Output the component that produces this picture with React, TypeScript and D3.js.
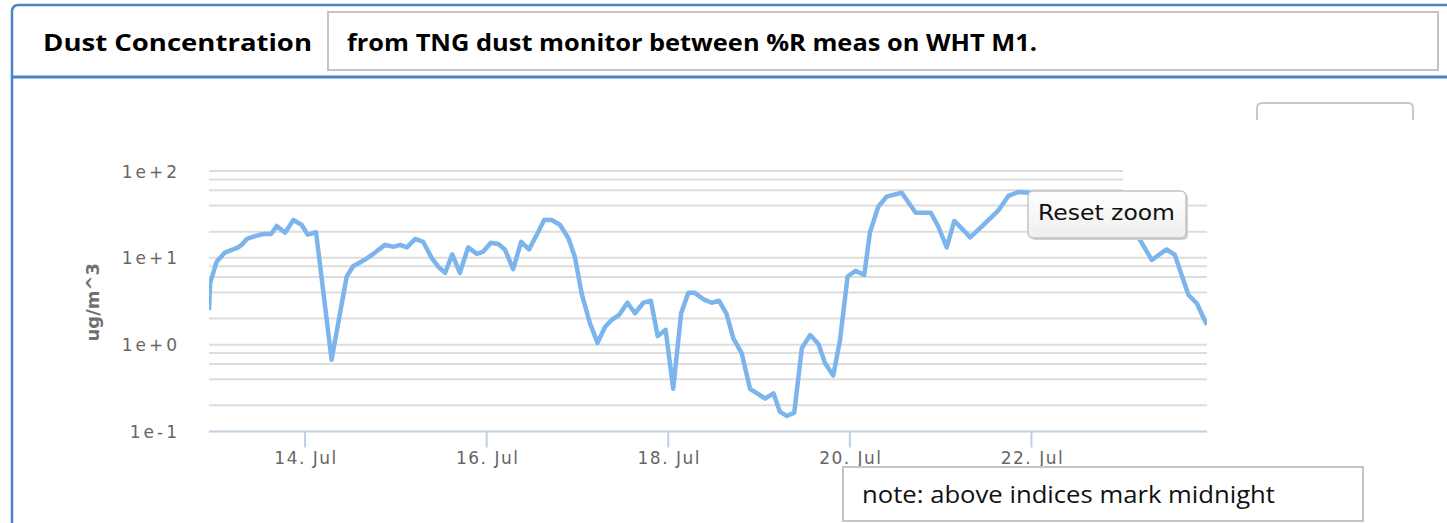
import React, { useEffect, useRef } from "react";
import * as d3 from "d3";

// hours after 13 Jul 00:00 (local time) and dust readings in ug/m^3
const hours = [
  -1.4, -1.1, 0.6, 2.8, 6.3, 7.2, 8.6, 10.8, 13.0, 15.0,
  16.5, 18.7, 20.9, 23.1, 24.7, 26.9, 31.0, 35.0, 36.7, 39.8,
  42.5, 45.1, 47.3, 49.1, 50.9, 53.1, 55.2, 57.5, 59.2, 61.0,
  62.9, 64.9, 67.1, 69.4, 71.1, 73.1, 75.1, 76.8, 79.0, 81.1,
  83.2, 85.2, 87.2, 89.2, 91.4, 93.6, 95.3, 97.1, 99.3, 101.3,
  103.3, 105.0, 107.0, 109.2, 111.2, 113.4, 115.4, 117.2, 119.3, 121.3,
  123.4, 125.3, 126.9, 129.3, 131.5, 133.4, 135.4, 137.2, 139.4, 141.6,
  145.6, 147.8, 149.5, 151.3, 153.3, 155.3, 157.5, 159.7, 161.4, 163.6,
  165.4, 167.4, 169.5, 171.8, 173.3, 175.5, 177.7, 181.7, 185.4, 189.4,
  191.4, 193.6, 195.6, 198.4, 199.8, 202.8, 207.2, 209.9, 212.5, 215.2,
  219.6, 224.9, 231.5, 238.1, 242.6,
  244.7, 247.8, 251.7, 253.9, 257.5, 259.7, 262.1, 262.4,
];
const dust = [
  2.5, 5.1, 9.0, 11.5, 13.2, 14.1, 16.5, 17.8, 18.8, 18.8,
  23.3, 19.5, 27.3, 23.9, 18.5, 19.7, 0.67, 6.1, 8.0, 9.5,
  11.5, 14.1, 13.4, 14.1, 13.2, 16.5, 15.3, 9.9, 7.9, 6.7,
  11.0, 6.7, 13.2, 11.1, 11.8, 14.9, 14.4, 12.5, 7.4, 15.3,
  12.5, 18.3, 27.3, 27.3, 23.9, 16.8, 10.3, 3.9, 1.76, 1.05,
  1.61, 1.92, 2.2, 3.04, 2.3, 3.04, 3.21, 1.26, 1.48, 0.31,
  2.3, 3.97, 3.97, 3.33, 3.04, 3.21, 2.26, 1.18, 0.8, 0.31,
  0.24, 0.275, 0.169, 0.151, 0.165, 0.91, 1.29, 1.02, 0.62, 0.44,
  1.13, 6.1, 7.1, 6.35, 19.5, 38.8, 50.6, 56.2, 33.1, 33.1,
  22.8, 13.2, 26.6, 20.0, 17.2, 22.8, 34.9, 51.6, 57.3, 56.2,
  51.6, 40.6, 33.7, 25.9, 19.8,
  16.1, 9.45, 12.5, 10.8, 3.73, 3.0, 1.79, 1.7,
];

const majorTicks = [0.1, 1, 10, 100];
const majorLabels = ["1e-1", "1e+0", "1e+1", "1e+2"];
const minorFactors = [2, 4, 6, 8];
const tickDays = [14, 16, 18, 20, 22];

const titleText = "Dust Concentration";
const subtitleText = "from TNG dust monitor between %R meas on WHT M1.";
const noteText = "note: above indices mark midnight";
const yTitle = "ug/m^3";
const resetText = "Reset zoom";

const W = 1447;
const H = 523;
const plotLeft = 209;
const plotRight = 1207;
const plotTop = 171;
const plotBottom = 431.5;

const blue = "#4a84c4";
const labelFont = "'DejaVu Sans', Verdana, sans-serif";
const boxFont = "'Open Sans', 'Noto Sans', sans-serif";

export default function App() {
  const svgRef = useRef<SVGSVGElement>(null);

  useEffect(() => {
    const svg = d3.select(svgRef.current);
    const g = svg.select(".chart");
    g.selectAll("*").remove();

    const base = new Date(2015, 6, 13).getTime();
    const data = hours.map((h, i) => ({ t: new Date(base + h * 3600e3), v: dust[i] }));

    const x = d3
      .scaleTime()
      .domain(d3.extent(data, (d) => d.t) as [Date, Date])
      .range([plotLeft, plotRight]);
    const y = d3.scaleLog().domain([0.1, 100]).range([plotBottom, plotTop]);

    // grid lines (major + minor on the log axis)
    const gridVals: number[] = [];
    majorTicks.forEach((m, i) => {
      if (i > 0) gridVals.push(m);
      if (i < majorTicks.length - 1) minorFactors.forEach((f) => gridVals.push(m * f));
    });
    g.append("g")
      .selectAll("line")
      .data(gridVals)
      .join("line")
      .attr("x1", plotLeft)
      .attr("x2", plotRight)
      .attr("y1", (d) => y(d))
      .attr("y2", (d) => y(d))
      .attr("stroke", "#dddddd")
      .attr("stroke-width", 2);

    // odd white patch in the top right of the plot area
    g.append("rect")
      .attr("x", 1123)
      .attr("y", 164)
      .attr("width", 90)
      .attr("height", 34)
      .attr("fill", "#fff");

    // x axis
    const xTicks = tickDays.map((d) => new Date(2015, 6, d));
    g.append("line")
      .attr("x1", plotLeft)
      .attr("x2", plotRight)
      .attr("y1", plotBottom)
      .attr("y2", plotBottom)
      .attr("stroke", "#c0d0e0")
      .attr("stroke-width", 2);
    g.append("g")
      .selectAll("line")
      .data(xTicks)
      .join("line")
      .attr("x1", (d) => x(d))
      .attr("x2", (d) => x(d))
      .attr("y1", plotBottom)
      .attr("y2", plotBottom + 16)
      .attr("stroke", "#c0d0e0")
      .attr("stroke-width", 2);
    const fmt = d3.timeFormat("%-d. %b");
    g.append("g")
      .selectAll("text")
      .data(xTicks)
      .join("text")
      .attr("x", (d) => x(d) + 1)
      .attr("y", plotBottom + 32)
      .attr("text-anchor", "middle")
      .attr("font-family", labelFont)
      .attr("font-size", 17)
      .attr("letter-spacing", 1.5)
      .attr("fill", "#666")
      .text((d) => fmt(d));

    // y labels
    g.append("g")
      .selectAll("text")
      .data(majorTicks)
      .join("text")
      .attr("x", 180)
      .attr("y", (d) => y(d) + 6.5)
      .attr("text-anchor", "end")
      .attr("font-family", labelFont)
      .attr("font-size", 17)
      .attr("letter-spacing", 3)
      .attr("fill", "#666")
      .text((d, i) => majorLabels[i]);

    g.append("text")
      .attr("transform", `translate(99,${(plotTop + plotBottom) / 2 + 1}) rotate(-90)`)
      .attr("text-anchor", "middle")
      .attr("font-family", labelFont)
      .attr("font-size", 18)
      .attr("font-weight", "bold")
      .attr("fill", "#707070")
      .text(yTitle);

    // series
    const line = d3
      .line<{ t: Date; v: number }>()
      .x((d) => x(d.t))
      .y((d) => y(d.v));
    g.append("path")
      .datum(data)
      .attr("clip-path", "url(#plotClip)")
      .attr("d", line)
      .attr("fill", "none")
      .attr("stroke", "#7cb5ec")
      .attr("stroke-width", 4.5)
      .attr("stroke-linejoin", "round");
  }, []);

  return (
    <svg
      ref={svgRef}
      width={W}
      height={H}
      style={{ position: "absolute", left: 0, top: 0, background: "#fff" }}
    >
      <defs>
        <clipPath id="plotClip">
          <rect x={plotLeft} y={plotTop - 10} width={plotRight - plotLeft} height={plotBottom - plotTop + 10} />
        </clipPath>
        <linearGradient id="btnGrad" x1="0" y1="0" x2="0" y2="1">
          <stop offset="0" stopColor="#ffffff" />
          <stop offset="1" stopColor="#eeeeee" />
        </linearGradient>
      </defs>

      {/* outer frame and header */}
      <rect x={12} y={5} width={1450} height={H + 20} rx={6} fill="#fff" stroke={blue} strokeWidth={2.5} />
      <line x1={12} x2={W} y1={77} y2={77} stroke={blue} strokeWidth={3} />
      <text x={43} y={51} fontFamily={boxFont} fontWeight="bold" fontSize={23} textLength={269} lengthAdjust="spacingAndGlyphs">
        {titleText}
      </text>
      <rect x={328} y={12} width={1110} height={58} fill="#fff" stroke="#c4c4c4" strokeWidth={2} />
      <text x={347} y={51} fontFamily={boxFont} fontWeight="bold" fontSize={23} textLength={690} lengthAdjust="spacingAndGlyphs">
        {subtitleText}
      </text>

      <g className="chart" />

      {/* partly hidden box, top right */}
      <path d="M1257,120 V108 Q1257,103 1262,103 H1408 Q1413,103 1413,108 V120" fill="none" stroke="#c8c8c8" strokeWidth={2} />

      {/* reset zoom button */}
      <rect x={1030} y={193} width={158} height={47} rx={5} fill="#d2d2d2" />
      <rect x={1028} y={191} width={158} height={47} rx={5} fill="url(#btnGrad)" stroke="#c4c4c4" strokeWidth={1.5} />
      <text x={1038} y={219.5} fontFamily={labelFont} fontSize={21} fill="#111" textLength={137} lengthAdjust="spacingAndGlyphs">
        {resetText}
      </text>

      {/* note box */}
      <rect x={843} y={467} width={520} height={54} fill="#fff" stroke="#c4c4c4" strokeWidth={2} />
      <text x={862} y={503} fontFamily={boxFont} fontSize={23} fill="#111" textLength={413} lengthAdjust="spacingAndGlyphs">
        {noteText}
      </text>
    </svg>
  );
}
